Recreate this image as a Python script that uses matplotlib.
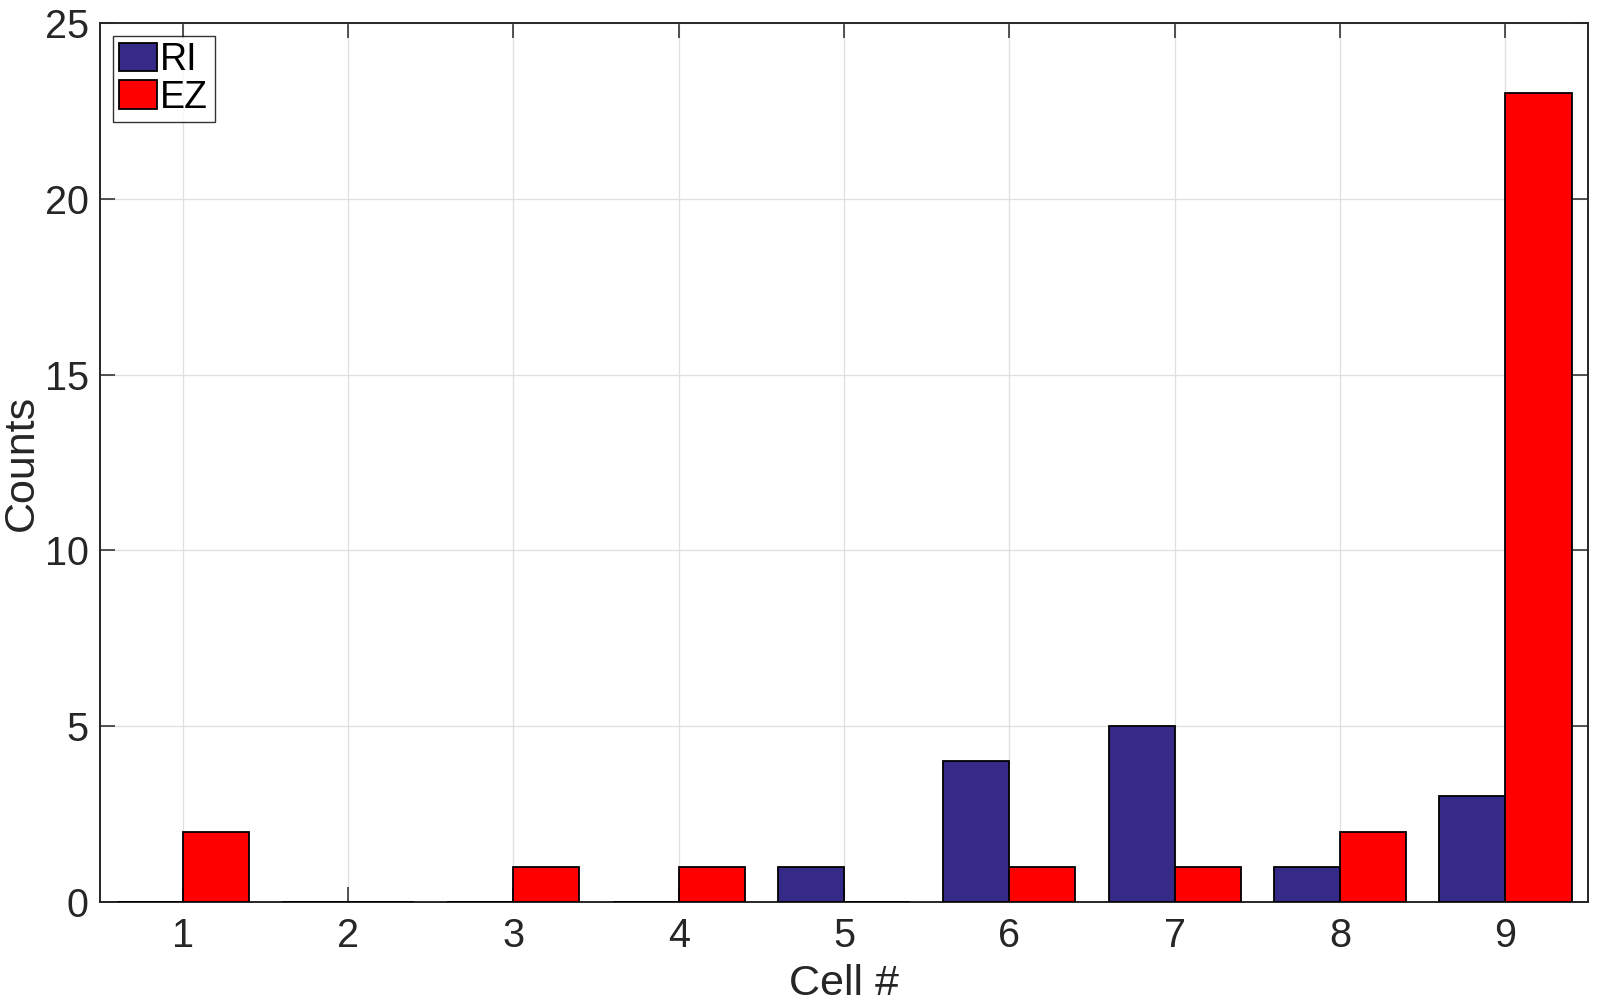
import matplotlib
matplotlib.use("Agg")
import matplotlib.pyplot as plt
import numpy as np

plt.rcParams['font.family'] = ['Liberation Sans', 'DejaVu Sans']

cells = [1, 2, 3, 4, 5, 6, 7, 8, 9]
ri_counts = [0, 0, 0, 0, 1, 4, 5, 1, 3]
ez_counts = [2, 0, 1, 1, 0, 1, 1, 2, 23]
series_names = ['RI', 'EZ']
yticks = [0, 5, 10, 15, 20, 25]

fig = plt.figure(figsize=(15.97, 10.08), dpi=100)
ax = fig.add_axes([0.0626, 0.1052, 0.9318, 0.8720])

x = np.array(cells, dtype=float)
w = 0.4
ax.bar(x - w / 2, ri_counts, width=w, color='#352A87', edgecolor='black', linewidth=1.3, label=series_names[0], zorder=3)
ax.bar(x + w / 2, ez_counts, width=w, color='#FF0000', edgecolor='black', linewidth=1.3, label=series_names[1], zorder=3)

ax.set_xlim(0.5, 9.5)
ax.set_ylim(0, 25)
ax.set_xticks(cells)
ax.set_yticks(yticks)
ax.grid(True, color='#dfdfdf', linewidth=0.9, zorder=0)
ax.set_axisbelow(True)

tc = '#262626'
for s in ax.spines.values():
    s.set_color(tc)
    s.set_linewidth(1.4)
ax.tick_params(direction='in', length=10.8, width=1.1, color=tc, labelcolor=tc, labelsize=28.5,
               top=True, right=True)
ax.tick_params(axis='x', pad=11)
ax.tick_params(axis='y', pad=8)
ax.set_xlabel('Cell #', fontsize=31, color=tc, labelpad=6)
ax.set_ylabel('Counts', fontsize=31, color=tc, labelpad=2)

leg = ax.legend(loc='upper left', fontsize=27, frameon=True, fancybox=False, edgecolor='black',
                handlelength=1.0, handleheight=0.8, handletextpad=0.1, borderpad=0.17,
                labelspacing=0.04, borderaxespad=0.34)
leg.get_frame().set_linewidth(1.0)
for t in leg.get_texts():
    t.set_color('black')

fig.savefig('out.png', dpi=100)
